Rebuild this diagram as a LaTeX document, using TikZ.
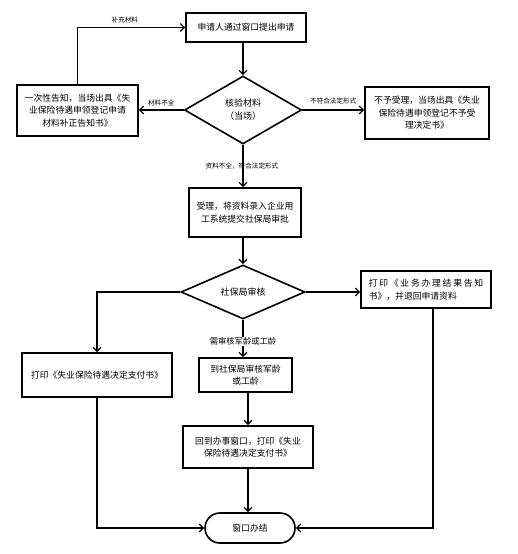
\documentclass[tikz,border=0pt]{standalone}
\usepackage{fontspec}
\setmainfont{Noto Sans CJK SC}
\usetikzlibrary{shapes.geometric,arrows.meta}
\tikzset{
  box/.style={draw, line width=1.6pt, inner sep=1pt, align=center, font=\fontsize{8.8}{12.5}\selectfont},
  dia/.style={draw, shape=diamond, line width=1.6pt, inner sep=0pt, align=center, font=\fontsize{9}{13}\selectfont},
  term/.style={draw, line width=1.6pt, rounded corners=15pt, inner sep=0pt, font=\fontsize{8.8}{12}\selectfont},
  conn/.style={line width=1.3pt, -{Straight Barb[length=4pt,width=8pt,line width=1.3pt]}},
  lbl/.style={font=\fontsize{6.6}{8}\selectfont, inner sep=1pt},
}
\begin{document}
\begin{tikzpicture}[x=1pt,y=-1pt]
\useasboundingbox (0,0) rectangle (518,554);
% nodes
\node[box, minimum width=120pt, minimum height=29pt] (top) at (246,27.5) {申请人通过窗口提出申请};
\node[dia, minimum width=117pt, minimum height=68pt] (chk) at (243,110) {核验材料\\（当场）};
\node[box, minimum width=121pt, minimum height=51pt] (left) at (77.5,110.5) {一次性告知，当场出具《失\\业保险待遇申领登记申请\\材料补正告知书》};
\node[box, minimum width=124pt, minimum height=52pt] (right) at (427,113) {不予受理，当场出具《失业\\保险待遇申领登记不予受\\理决定书》};
\node[box, minimum width=112pt, minimum height=49pt] (acc) at (245,212.5) {受理，将资料录入企业用\\工系统提交社保局审批};
\node[dia, minimum width=124pt, minimum height=54pt] (rev) at (243,292) {社保局审核};
\node[box, minimum width=130pt, minimum height=37pt, align=left] (res) at (426,289.5) {{\addfontfeature{LetterSpace=20}打印《业务办理结果告知}\\书》，并退回申请资料};
\node[box, minimum width=150pt, minimum height=44pt] (pay) at (97,375) {打印《失业保险待遇决定支付书》};
\node[box, minimum width=93pt, minimum height=34pt] (army) at (245.5,375) {到社保局审核军龄\\或工龄};
\node[box, minimum width=130pt, minimum height=42pt] (back) at (248,447) {回到办事窗口，打印《失业\\保险待遇决定支付书》};
\node[term, minimum width=90pt, minimum height=30pt] (end) at (250,528) {窗口办结};
% connectors
\draw[conn] (chk.north |- top.south) -- (chk.north);
\draw[conn] (chk.west) -- (chk.west -| left.east) node[lbl, midway, above=2pt] {材料不全};
\draw[conn] (left.north) |- (top.west) node[lbl, pos=0.72, above=3pt] {补充材料};
\draw[conn] (chk.east) -- (chk.east -| right.west) node[lbl, midway, above=4pt] {不符合法定形式};
\draw[conn] (chk.south) -- (chk.south |- acc.north) node[lbl, midway, xshift=-1pt] {资料不全，符合法定形式};
\draw[conn] (rev.north |- acc.south) -- (rev.north);
\draw[conn] (rev.east) -- (rev.east -| res.west);
\draw[conn] (rev.west) -| (pay.north);
\draw[conn] (rev.south) -- (rev.south |- army.north) node[pos=0.58, fill=white, inner sep=1pt, font=\fontsize{8.3}{10}\selectfont] {需审核军龄或工龄};
\draw[conn] (army.south -| back.north) -- (back.north);
\draw[conn] (back.south) -- (back.south |- end.north);
\draw[conn] (pay.south) |- (end.west);
\coordinate (rb) at ([xshift=7pt]res.south);
\draw[conn] (rb) |- (end.east);
\end{tikzpicture}
\end{document}
